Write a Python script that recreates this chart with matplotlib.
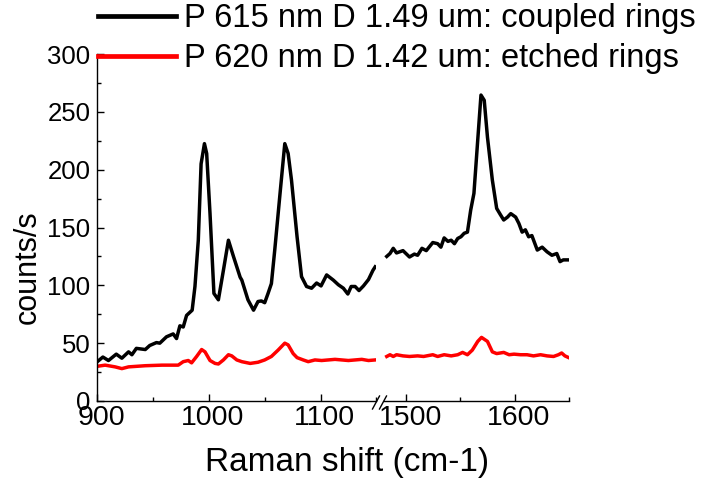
import numpy as np
import matplotlib
matplotlib.use('Agg')
import matplotlib.pyplot as plt
from matplotlib.lines import Line2D
from matplotlib.ticker import MultipleLocator
from matplotlib.transforms import ScaledTranslation

plt.rcParams['font.family'] = ['Liberation Sans', 'DejaVu Sans']

# coupled rings (black), low-wavenumber segment
coupled_x_lo = [900, 905, 910, 917, 922, 928, 931, 935, 943, 947, 953, 956, 962, 968, 971, 974,
                977, 980, 985, 987.5, 990.5, 993, 996, 998, 1001, 1004.5, 1008.5, 1013, 1017.5,
                1022, 1028, 1029.5, 1035, 1040, 1044, 1047, 1050, 1053, 1056, 1059, 1064, 1068,
                1071, 1074, 1079, 1083, 1087.5, 1092, 1096.5, 1100.5, 1105.5, 1111.5, 1116,
                1120.5, 1124.5, 1127.5, 1131, 1134.5, 1138.5, 1143, 1147, 1149]
coupled_y_lo = [34, 38, 35, 40.5, 37, 42.5, 40, 45.5, 44.5, 48, 50.5, 50, 55.5, 58, 54, 65,
                64, 74, 78.5, 99, 139, 205, 222.5, 214, 162, 93, 87.5, 113, 139,
                125, 107, 104.5, 87.5, 78.5, 86, 86.5, 85, 93, 101.5, 130.5, 182, 222.5,
                214, 191, 142, 107.5, 99, 97.5, 102, 99.5, 109, 104.5, 100.5,
                97.5, 92.5, 99, 99, 95.5, 99.5, 105, 113, 116]

# coupled rings, high-wavenumber segment
coupled_x_hi = [1482, 1485, 1488, 1491, 1497, 1503, 1507.5, 1510.5, 1514.5, 1518.5, 1524.5, 1529,
                1532, 1535, 1538.5, 1541.5, 1544.5, 1547.5, 1550.5, 1553.5, 1556.5, 1559.5,
                1562.5, 1566, 1569, 1572, 1575, 1579.5, 1583.5, 1587, 1590, 1593.5, 1596.5,
                1601, 1604, 1607, 1610, 1613, 1616, 1621, 1625.5, 1630, 1634.5, 1639, 1642,
                1645, 1650]
coupled_y_hi = [125, 127.5, 132, 128, 130, 124.5, 127, 126, 132, 130, 137, 136,
                133, 141, 138, 139, 136, 140.5, 142, 145, 146, 165,
                179.5, 225.5, 264.5, 260, 228, 191, 166.5, 161, 156.5, 159, 162,
                159, 153.5, 146, 148, 142, 143, 130.5, 133, 129, 126, 127.5, 120.5,
                122, 122]

# etched rings (red)
etched_x_lo = [900, 907, 916, 922, 928, 943, 958, 972.5, 977, 981.5, 984.5, 989, 993.5, 996.5,
               1001, 1005.5, 1008.5, 1013, 1017.5, 1020.5, 1025, 1029.5, 1037, 1044, 1050, 1056,
               1062, 1068, 1071, 1075.5, 1079, 1084.5, 1089, 1095, 1101, 1107, 1113, 1119,
               1125, 1131, 1137, 1143, 1149]
etched_y_lo = [30, 31, 29.5, 28, 29.5, 30.5, 31, 31, 34, 35, 33, 38.5, 44.5, 42.5,
               35, 32.5, 32, 35.5, 40, 39, 35.5, 34, 32.5, 33.5, 35.5, 38.5,
               44, 50, 48.5, 41, 37.5, 35.5, 34, 35.5, 35, 35.5, 36, 35.5,
               35, 35.5, 36, 35, 35.5]

etched_x_hi = [1482, 1485, 1488, 1491, 1497, 1503, 1510.5, 1516, 1524.5, 1529, 1535, 1541.5,
               1547.5, 1552, 1556.5, 1561, 1566, 1569.5, 1575, 1579.5, 1583.5, 1590, 1595,
               1599.5, 1605.5, 1611.5, 1617.5, 1624, 1630, 1636, 1640.5, 1643.5, 1646.5, 1650]
etched_y_hi = [38.5, 40, 38.5, 40, 39, 38.5, 39, 38.5, 40, 38.5, 40, 39,
               40, 42, 40, 44, 51.5, 55, 51.5, 42.5, 41, 42, 40,
               40.5, 40, 40, 39, 40, 39, 38.5, 40, 41.5, 39, 37.5]

label_coupled = 'P 615 nm D 1.49 um: coupled rings'
label_etched = 'P 620 nm D 1.42 um: etched rings'

W, H = 710, 478
fig = plt.figure(figsize=(7.1, 4.78), dpi=100)

def fx(px):
    return px / W

def fy(py):
    return 1 - py / H

y0, y1 = 401, 54
ax1 = fig.add_axes([fx(97.3), fy(y0), fx(376.3) - fx(97.3), fy(y1) - fy(y0)])
ax2 = fig.add_axes([fx(383.5), fy(y0), fx(568.7) - fx(383.5), fy(y1) - fy(y0)])

lw = 2.5
ax1.plot(coupled_x_lo, coupled_y_lo, color='black', lw=lw, solid_joinstyle='round')
ax1.plot(etched_x_lo, etched_y_lo, color='#ff0000', lw=lw, solid_joinstyle='round')
ax2.plot(coupled_x_hi, coupled_y_hi, color='black', lw=lw, solid_joinstyle='round')
ax2.plot(etched_x_hi, etched_y_hi, color='#ff0000', lw=lw, solid_joinstyle='round')

ax1.set_xlim(900, 1150)
ax2.set_xlim(1479, 1650)
shift = ScaledTranslation(4 / 100, 0, fig.dpi_scale_trans)
for ax in (ax1, ax2):
    ax.set_ylim(0, 300)
    ax.spines['top'].set_visible(False)
    ax.spines['right'].set_visible(False)
    ax.spines['bottom'].set_linewidth(1.0)
    ax.spines['left'].set_linewidth(1.0)
    ax.xaxis.set_major_locator(MultipleLocator(100))
    ax.xaxis.set_minor_locator(MultipleLocator(50))
    ax.tick_params(axis='both', which='major', direction='in', length=5, width=1, pad=3)
    ax.tick_params(axis='both', which='minor', direction='in', length=3, width=1)
    ax.tick_params(axis='x', which='major', labelsize=20.5)
    ax.tick_params(axis='y', which='both', pad=5, labelsize=18.5)
    for lab in ax.get_xticklabels():
        lab.set_transform(lab.get_transform() + shift)

ax1.yaxis.set_major_locator(MultipleLocator(50))
ax1.yaxis.set_minor_locator(MultipleLocator(25))
ax1.set_ylabel('counts/s', fontsize=22)
ax1.yaxis.set_label_coords(-0.195, 0.386)

ax2.spines['left'].set_visible(False)
ax2.tick_params(axis='y', which='both', left=False, labelleft=False)

# axis break marks
for xs in (372.5, 379.5):
    fig.add_artist(Line2D([fx(xs), fx(xs + 7)], [fy(409), fy(396)],
                          color='black', lw=1.0))

fig.text(fx(347), fy(462), 'Raman shift (cm-1)', fontsize=24, ha='center', va='center')

handles = [Line2D([], [], color='black', lw=3.4), Line2D([], [], color='#ff0000', lw=3.4)]
fig.legend(handles, [label_coupled, label_etched], loc='upper left',
           bbox_to_anchor=(fx(98), fy(3)), frameon=False, fontsize=23.5,
           handlelength=2.4, handletextpad=0.25, labelspacing=0.28,
           borderpad=0.0, borderaxespad=0.0)

fig.savefig('out.png', dpi=100)
